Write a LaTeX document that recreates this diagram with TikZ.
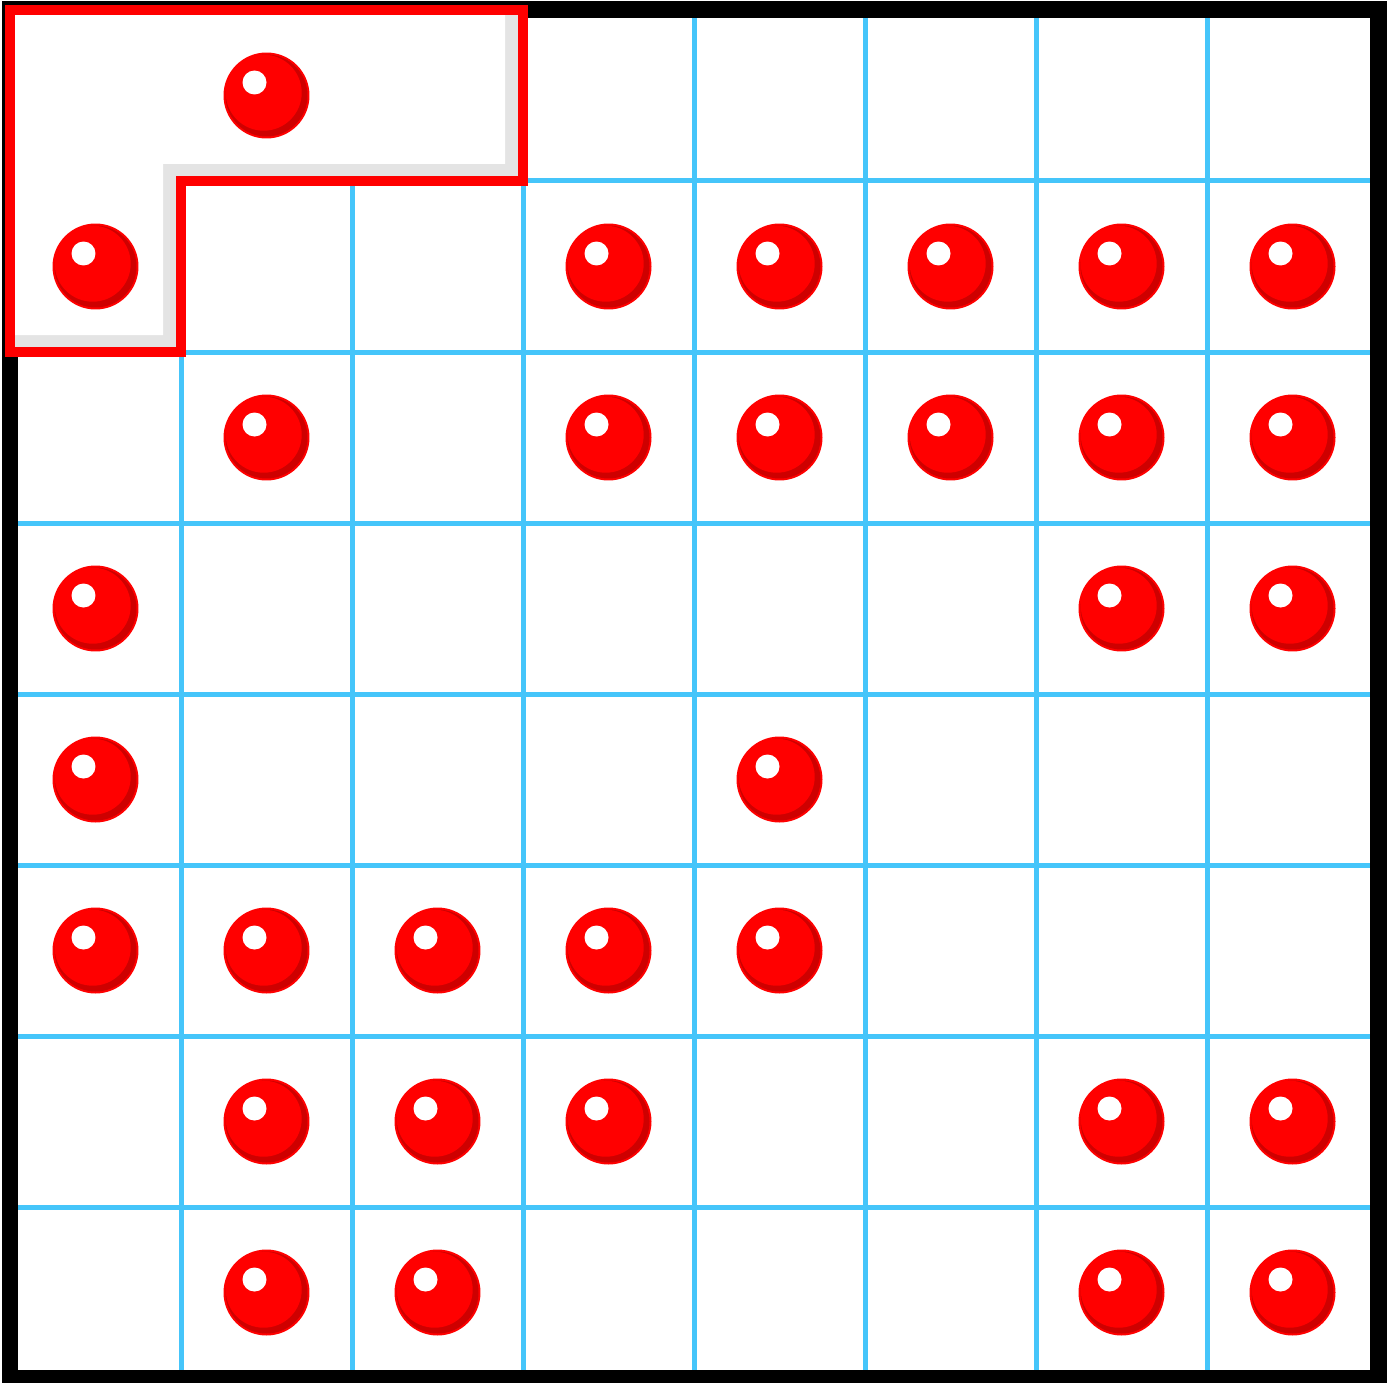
\documentclass[tikz,border=0pt]{standalone}
\definecolor{gridblue}{RGB}{69,197,250}
\definecolor{ballred}{RGB}{255,0,0}
\definecolor{balldark}{RGB}{206,0,0}
\definecolor{bandgrey}{RGB}{228,228,228}
\tikzset{
  gridline/.style={draw=gridblue,line width=0.1cm},
  frameline/.style={draw=black,line width=0.34cm},
  regionline/.style={draw=ballred,line width=0.2cm,line join=miter},
  ball/.pic={
    \fill[ballred] (0,0) circle[radius=0.86cm];
    \fill[balldark] (0,0) circle[radius=0.82cm];
    \fill[ballred] (-2.8,-2.8) circle[radius=0.76cm];
    \fill[white] (-12,-13) circle[radius=0.24cm];
  }
}
\begin{document}
\begin{tikzpicture}[x=0.02cm,y=-0.02cm]
\useasboundingbox (0,0) rectangle (1395,1382);
\fill[white] (0,0) rectangle (1395,1382);
% grid
\foreach \i in {1,...,7}{
  \draw[gridline] (10+171*\i,10) -- (10+171*\i,1378);
  \draw[gridline] (10,10+171*\i) -- (1378,10+171*\i);
}
% frame
\draw[frameline] (10,10) rectangle (1378,1378);
% L region
\fill[bandgrey] (10,10) -- (523,10) -- (523,181) -- (181,181) -- (181,352) -- (10,352) -- cycle;
\fill[white] (10,10) -- (505,10) -- (505,164) -- (163,164) -- (163,335) -- (10,335) -- cycle;
\draw[regionline] (10,10) -- (523,10) -- (523,181) -- (181,181) -- (181,352) -- (10,352) -- cycle;
% balls: (col,row)
\foreach \c/\r in {1/0,
  0/1,3/1,4/1,5/1,6/1,7/1,
  1/2,3/2,4/2,5/2,6/2,7/2,
  0/3,6/3,7/3,
  0/4,4/4,
  0/5,1/5,2/5,3/5,4/5,
  1/6,2/6,3/6,6/6,7/6,
  1/7,2/7,6/7,7/7}{
  \pic at (95.5+171*\c,95.5+171*\r) {ball};
}
\end{tikzpicture}
\end{document}
